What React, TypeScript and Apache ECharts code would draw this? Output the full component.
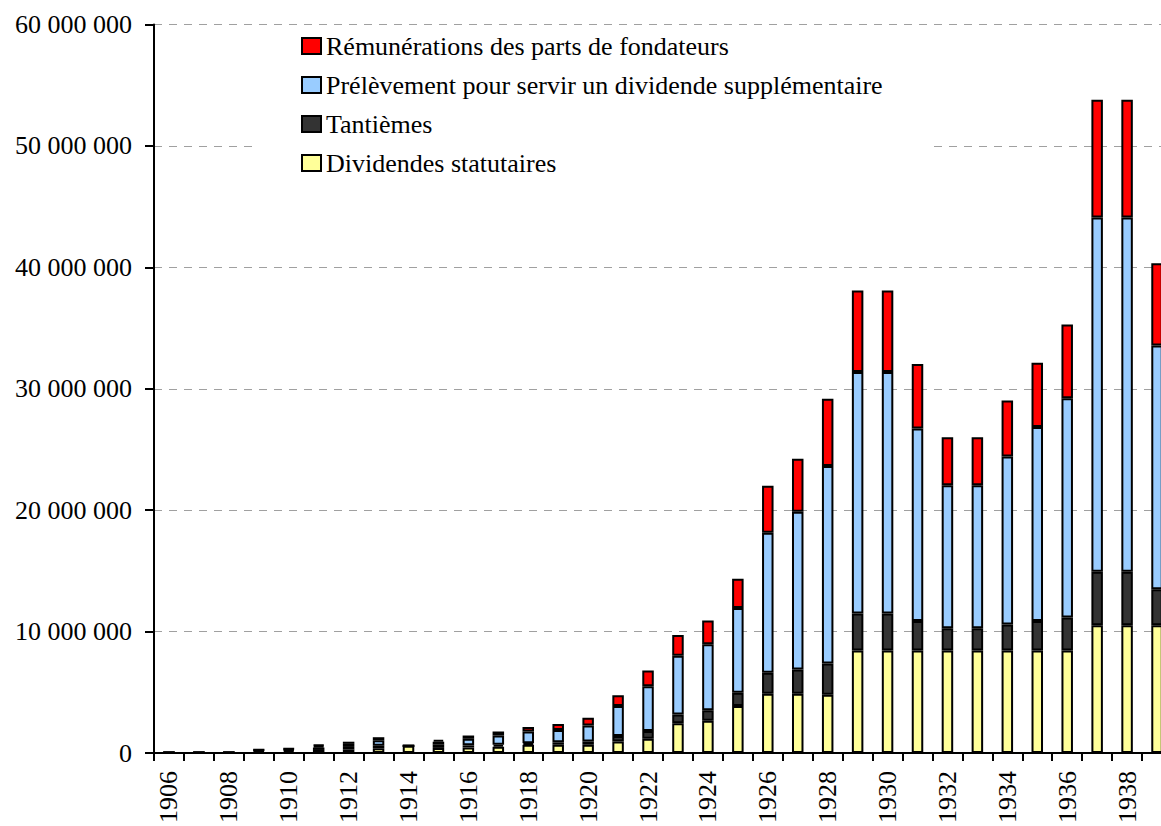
import React, { useEffect, useRef } from "react";
import * as echarts from "echarts";

const years = [
  "1906", "1907", "1908", "1909", "1910", "1911", "1912", "1913", "1914", "1915",
  "1916", "1917", "1918", "1919", "1920", "1921", "1922", "1923", "1924", "1925",
  "1926", "1927", "1928", "1929", "1930", "1931", "1932", "1933", "1934", "1935",
  "1936", "1937", "1938", "1939",
];

const dividendes = [
  30000, 30000, 30000, 120000, 150000, 250000, 300000, 400000, 600000, 420000,
  460000, 520000, 680000, 680000, 680000, 950000, 1170000, 2440000, 2660000, 3880000,
  4890000, 4890000, 4800000, 8450000, 8450000, 8450000, 8450000, 8450000, 8450000, 8450000,
  8450000, 10530000, 10530000, 10530000,
];

const tantiemes = [
  20000, 20000, 20000, 80000, 100000, 200000, 200000, 200000, 0, 260000,
  170000, 160000, 130000, 200000, 270000, 450000, 650000, 740000, 870000, 1090000,
  1710000, 1980000, 2570000, 3040000, 3040000, 2420000, 1820000, 1820000, 2130000, 2420000,
  2720000, 4400000, 4400000, 2960000,
];

const prelevement = [
  0, 0, 0, 50000, 80000, 130000, 250000, 450000, 0, 250000,
  540000, 760000, 960000, 1020000, 1310000, 2480000, 3670000, 4830000, 5430000, 6980000,
  11540000, 13000000, 16260000, 19890000, 19890000, 15850000, 11780000, 11780000, 13830000, 15970000,
  18040000, 29170000, 29170000, 20080000,
];

const remunerations = [
  0, 0, 0, 30000, 50000, 100000, 180000, 250000, 0, 160000,
  270000, 330000, 370000, 490000, 640000, 880000, 1300000, 1710000, 1950000, 2410000,
  3880000, 4370000, 5540000, 6720000, 6720000, 5310000, 3950000, 3950000, 4620000, 5310000,
  6080000, 9700000, 9700000, 6770000,
];

const yTicks = [0, 10000000, 20000000, 30000000, 40000000, 50000000, 60000000];

const names = {
  rem: "Rémunérations des parts de fondateurs",
  pre: "Prélèvement pour servir un dividende supplémentaire",
  tan: "Tantièmes",
  div: "Dividendes statutaires",
};

const FONT = "Times New Roman, Liberation Serif, DejaVu Serif, serif";

function fmt(v: number): string {
  return String(Math.round(v)).replace(/\B(?=(\d{3})+(?!\d))/g, " ");
}

export default function App() {
  const ref = useRef<HTMLDivElement>(null);

  useEffect(() => {
    if (!ref.current) return;
    const chart = echarts.init(ref.current, undefined, { renderer: "svg" });
    const barBase = {
      type: "bar" as const,
      stack: "total",
      barWidth: 11.5,
    };
    const border = { borderColor: "#000", borderWidth: 2 };
    const txt = { fontFamily: FONT, fontSize: 26, color: "#000", fontWeight: "normal" as const };
    chart.setOption({
      animation: false,
      backgroundColor: "#fff",
      textStyle: { ...txt },
      grid: { left: 154, right: 0, top: 24.5, bottom: 64.3, containLabel: false },
      legend: {
        orient: "vertical",
        left: 258,
        top: 27,
        padding: [6, 50, 6, 43],
        backgroundColor: "#fff",
        itemGap: 13,
        itemWidth: 19,
        itemHeight: 16,
        icon: "rect",
        selectedMode: false,
        data: [names.rem, names.pre, names.tan, names.div],
        textStyle: { ...txt },
      },
      xAxis: {
        type: "category",
        data: years,
        boundaryGap: true,
        axisLine: { show: true, lineStyle: { color: "#000", width: 2 } },
        axisTick: { show: true, interval: 0, length: 8, lineStyle: { color: "#000", width: 2 } },
        axisLabel: {
          interval: 1,
          rotate: 90,
          margin: 18,
          ...txt,
        },
        splitLine: { show: false },
      },
      yAxis: {
        type: "value",
        min: yTicks[0],
        max: yTicks[yTicks.length - 1],
        interval: yTicks[1] - yTicks[0],
        axisLine: { show: true, lineStyle: { color: "#000", width: 2 } },
        axisTick: { show: true, length: 9, lineStyle: { color: "#000", width: 2 } },
        axisLabel: {
          margin: 22,
          ...txt,
          formatter: (v: number) => fmt(v),
        },
        splitLine: {
          show: true,
          lineStyle: { color: "#A0A0A0", width: 1, type: [8, 7] },
        },
      },
      series: [
        { ...barBase, name: names.div, data: dividendes, itemStyle: { color: "#FFFF99", ...border } },
        { ...barBase, name: names.tan, data: tantiemes, itemStyle: { color: "#333333", ...border } },
        { ...barBase, name: names.pre, data: prelevement, itemStyle: { color: "#99CCFF", ...border } },
        { ...barBase, name: names.rem, data: remunerations, itemStyle: { color: "#FF0000", ...border } },
      ],
    });
    return () => chart.dispose();
  }, []);

  return (
    <div style={{ position: "absolute", left: 0, top: 0, width: 1161, height: 826, overflow: "hidden" }}>
      <div ref={ref} style={{ width: 1172, height: 826 }} />
    </div>
  );
}
